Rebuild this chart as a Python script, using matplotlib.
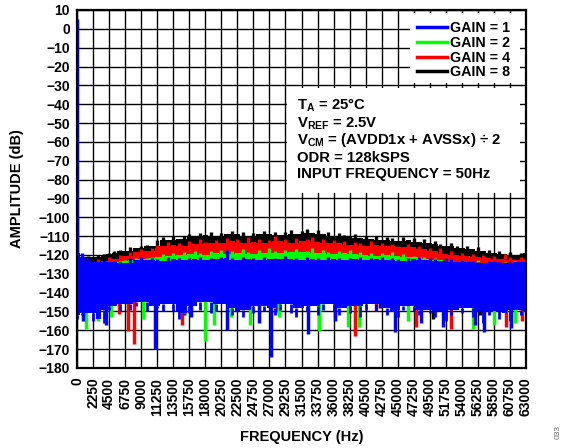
import numpy as np
import matplotlib.pyplot as plt
from matplotlib.patches import Rectangle

plt.rcParams['font.family'] = ['Liberation Sans', 'DejaVu Sans']
plt.rcParams['font.weight'] = 'bold'
plt.rcParams['mathtext.fontset'] = 'custom'
plt.rcParams['mathtext.rm'] = 'Liberation Sans:bold'
plt.rcParams['mathtext.bf'] = 'Liberation Sans:bold'

# FFT bins every 750 Hz, 0 .. 63000 Hz
freq = np.arange(0, 63001, 750)

# noise floor tops (dB) for each gain setting
gain8_top = [-122, -121, -120.5, -121, -120, -119.5, -119, -118, -117.5, -118,
             -116, -116.5, -115, -114.5, -115, -112, -110.5, -112, -110, -111.5,
             -110, -109, -110.5, -108.5, -109.5, -108, -110, -108.5, -109, -107.5,
             -109, -108, -110, -108.5, -109, -107.5, -109, -108, -109.5, -108,
             -107, -109, -107.5, -106.5, -108.5, -107, -109, -108, -110, -108.5,
             -109.5, -110.5, -109, -111, -110, -111.5, -110, -112, -110.5, -111,
             -112.5, -110.5, -112, -111, -113, -111.5, -113.5, -112.5, -114, -115,
             -113.5, -115.5, -116.5, -115, -117, -116, -118, -117.5, -119, -118,
             -119.5, -118.5, -120, -119, -118]
gain4_top = [-124, -123.5, -122.5, -123.5, -122, -123, -121, -122, -120, -120.5,
             -118.5, -118.5, -117, -118, -116.5, -114.5, -115.5, -113, -114.5, -113.5,
             -115, -112.5, -114, -111.5, -113, -113.5, -112, -113.5, -111, -112.5,
             -111.5, -113.5, -110.5, -113, -111.5, -113.5, -112, -110, -112.5, -111.5,
             -113.5, -111, -112.5, -111.5, -110.5, -113, -111.5, -113.5, -112, -113.5,
             -112.5, -114.5, -113, -113.5, -115, -112.5, -114.5, -113.5, -115.5, -114,
             -115, -116, -114, -116, -115.5, -117, -116.5, -118, -116.5, -119.5,
             -118, -120, -119, -120.5, -119.5, -121, -120, -121.5, -120.5, -122,
             -119.5, -121, -122.5, -121, -122]
gain2_top = [-126, -125.5, -125, -124, -125, -124.5, -123.5, -124, -123, -122.5,
             -122.5, -121.5, -122, -121.5, -121, -121, -119.5, -120.5, -119, -120,
             -118.5, -119.5, -118, -119, -120, -118, -119, -117.5, -119.5, -118,
             -119, -117, -118.5, -119.5, -117.5, -119, -116.5, -118, -119, -117.5,
             -118.5, -117, -118.5, -118, -116.5, -119, -117.5, -118.5, -119.5, -118,
             -119, -117.5, -119.5, -118.5, -120, -119, -120.5, -119, -120, -118.5,
             -120.5, -119.5, -121, -120.5, -121, -121, -122, -121.5, -122.5, -122.5,
             -123, -124, -122.5, -123.5, -124, -122.5, -124.5, -123, -124, -125,
             -123.5, -124.5, -123, -124.5, -124]
gain1_top = [-100, -119, -121, -123, -123.5, -122.5, -124, -123, -123.5, -124.5,
             -121.5, -122.5, -121, -122.5, -121.5, -122, -123, -121, -122, -121.5,
             -122.5, -121.5, -122, -121, -122.5, -121.5, -122, -121, -117.5, -121.5,
             -122.5, -121, -122, -121.5, -122.5, -121, -122, -121.5, -122, -120.5,
             -122, -121.5, -122.5, -121, -122, -121.5, -122.5, -121, -122, -121.5,
             -122.5, -121.5, -122, -121, -122.5, -121.5, -122, -121, -122.5, -121.5,
             -122, -123, -121.5, -122, -121, -122.5, -121.5, -122, -123, -121.5,
             -122, -123.5, -122.5, -124, -123, -123.5, -124.5, -123, -124, -123.5,
             -124.5, -123, -124, -123.5, -124]
gain1_bottom = [-154, -152, -151, -155, -154, -156, -149, -147, -150, -146,
                -149, -147, -145, -150, -147, -148, -150, -146, -150, -154,
                -152, -151, -147, -149, -145, -151, -150, -146, -148, -152,
                -150, -153, -149, -151, -147, -150, -148, -152, -149, -146,
                -151, -153, -148, -150, -147, -152, -149, -146, -150, -152,
                -148, -151, -147, -153, -149, -146, -150, -148, -152, -150,
                -153, -149, -147, -150, -152, -149, -151, -153, -150, -155,
                -152, -149, -151, -148, -153, -150, -156, -152, -150, -154,
                -151, -155, -149, -152, -150]

# deep nulls below the floor: frequency (Hz) and level (dB)
gain8_dips_f = [23500, 42500, 49900, 56500]
gain8_dips = [-146, -148, -154, -152]
gain4_dips_f = [5900, 7200, 8000, 14700, 28100, 39000, 41900, 47500, 52500, 60200, 62500]
gain4_dips = [-151.5, -160.5, -167.5, -157, -150.5, -163, -150, -158.5, -159.5, -158.5, -155]
gain2_dips_f = [1200, 3000, 4800, 9300, 15200, 17900, 19200, 21600, 24300, 28300,
                34000, 36200, 38000, 39600, 46400, 55500, 58500, 61500]
gain2_dips = [-159.5, -155, -153, -154, -152, -165.5, -157, -153, -157, -153,
              -160.5, -153, -158.5, -158, -155, -159.5, -157, -156]
gain1_dips_f = [800, 4100, 10900, 16000, 21000, 25500, 27150, 32400, 36200, 44600,
                48300, 51300, 55800, 57150, 60900]
gain1_dips = [-155, -157, -170, -153, -160, -156, -174, -162, -155, -161,
              -156, -158.5, -157, -161, -159]

# 50 Hz input tone
tone_f = [50]
tone_db = [5]


def neighbour(vals, pick):
    # shallowest/deepest of each bin and its two neighbours
    v = np.pad(np.asarray(vals, float), 1, mode='edge')
    return pick(pick(v[:-2], v[1:-1]), v[2:])


def spectrum(ax, f, top, bottom, col, comb_bottom):
    core_top = neighbour(top, np.minimum)
    core_bot = neighbour(bottom, np.maximum)
    ax.fill_between(f, core_bot, core_top, step='mid', color=col, lw=0, zorder=2)
    ax.vlines(f, core_top, top, color=col, lw=2.4, zorder=2)
    if comb_bottom:
        ax.vlines(f, bottom, core_bot, color=col, lw=2.0, zorder=2)


fig = plt.figure(figsize=(5.61, 4.48), dpi=100)
ax = fig.add_axes([0.1373, 0.1786, 0.8003, 0.7991])

series = [
    ('GAIN = 8', '#000000', gain8_top, gain8_dips_f, gain8_dips),
    ('GAIN = 4', '#ff0000', gain4_top, gain4_dips_f, gain4_dips),
    ('GAIN = 2', '#00ff00', gain2_top, gain2_dips_f, gain2_dips),
    ('GAIN = 1', '#0000ff', gain1_top, gain1_dips_f, gain1_dips),
]
handles = {}
for name, col, top, dips_f, dips in series:
    spectrum(ax, freq, top, gain1_bottom, col, comb_bottom=(name == 'GAIN = 1'))
    ax.vlines(dips_f, dips, -140, color=col, lw=2.5, zorder=2)
    handles[name], = ax.plot([], [], color=col, lw=2.5, label=name)
ax.vlines(tone_f, -130, tone_db, color='#0000ff', lw=2.5, zorder=2)

ax.set_xlim(0, 63000)
ax.set_ylim(-180, 10)
ax.set_xticks(np.arange(0, 63001, 2250))
ax.set_yticks(np.arange(-180, 11, 10))
ax.tick_params(axis='x', length=0, pad=7, labelsize=10, labelrotation=90)
ax.tick_params(axis='y', length=0, pad=5, labelsize=10)
ax.grid(True, color='black', lw=1.0)
for sp in ax.spines.values():
    sp.set_linewidth(1.6)

ax.set_xlabel('FREQUENCY (Hz)', fontsize=10.5, fontweight='bold', va='top')
ax.xaxis.set_label_coords(0.5, -0.173)
ax.set_ylabel('AMPLITUDE (dB)', fontsize=10.5, fontweight='bold')
ax.yaxis.set_label_coords(-0.118, 0.5)

# white panels behind the key and the test conditions
ax.add_patch(Rectangle((0.742, 0.796), 0.245, 0.196, transform=ax.transAxes,
                       facecolor='white', edgecolor='none', zorder=3))
ax.add_patch(Rectangle((0.468, 0.489), 0.519, 0.293, transform=ax.transAxes,
                       facecolor='white', edgecolor='none', zorder=3))

order = ['GAIN = 1', 'GAIN = 2', 'GAIN = 4', 'GAIN = 8']
leg = ax.legend([handles[k] for k in order], order, loc='upper right',
                bbox_to_anchor=(0.964, 0.969), frameon=False, fontsize=10.3,
                borderpad=0, labelspacing=0.05, handlelength=2.1,
                handletextpad=0.2, borderaxespad=0)
leg.set_zorder(4)

notes = [r'T$_{\mathrm{A}}$ = 25°C',
         r'V$_{\mathrm{REF}}$ = 2.5V',
         r'V$_{\mathrm{CM}}$ = (AVDD1x + AVSSx) ÷ 2',
         'ODR = 128kSPS',
         'INPUT FREQUENCY = 50Hz']
note_y = [0.7235, 0.673, 0.6257, 0.5754, 0.5307]
for txt, y in zip(notes, note_y):
    ax.text(0.49, y, txt, transform=ax.transAxes, fontsize=10.7,
            fontweight='bold', va='baseline', zorder=5)

fig.text(0.9955, 0.02, '033', rotation=90, fontsize=6, color='#666666',
         fontweight='normal', ha='center', va='bottom')

fig.savefig('out.png', dpi=100)
